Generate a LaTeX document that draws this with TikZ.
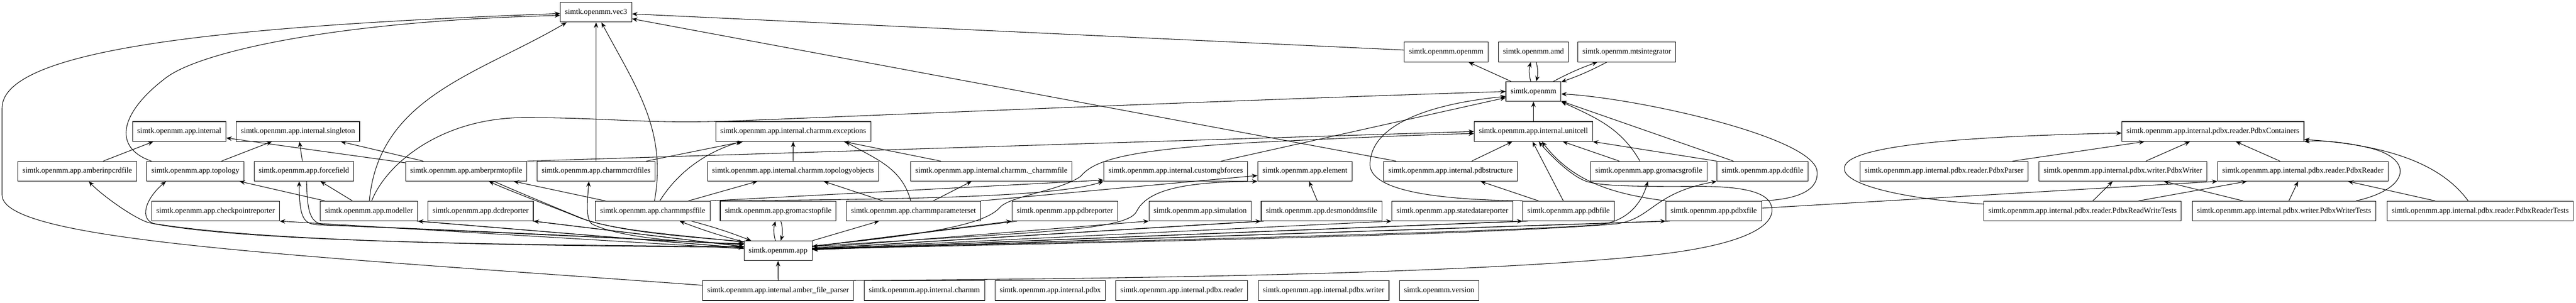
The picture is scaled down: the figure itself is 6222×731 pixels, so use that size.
\documentclass[tikz,border=0pt]{standalone}
\usepackage{fontspec}
\setmainfont{Liberation Serif}
\usetikzlibrary{arrows.meta}

\begin{document}
\begin{tikzpicture}[x=0.7565pt, y=0.7565pt, dep/.style={-{Stealth[length=10pt, width=8pt, inset=3.5pt]}, line width=1pt}]
\tikzstyle{pkg}=[rectangle, draw, line width=1pt, inner xsep=8.5pt, inner ysep=0pt, minimum height=36pt, font=\fontsize{14pt}{17pt}\selectfont]
\tikzstyle{every node}=[pkg]
\useasboundingbox (0,0) rectangle (6222,731);
\node (vecthree) at (1439.7,701.4) {simtk.openmm.vec3};
\node (ommomm) at (3493.2,605.4) {simtk.openmm.openmm};
\node (amd) at (3703.9,605.4) {simtk.openmm.amd};
\node (mts) at (3929.3,605.4) {simtk.openmm.mtsintegrator};
\node (omm) at (3703.8,510) {simtk.openmm};
\node (intl) at (433,413.5) {simtk.openmm.app.internal};
\node (sing) at (719.6,413.5) {simtk.openmm.app.internal.singleton};
\node (exc) at (1915.9,413.5) {simtk.openmm.app.internal.charmm.exceptions};
\node (ucell) at (3703.8,413.5) {simtk.openmm.app.internal.unitcell};
\node (pcont) at (5345,413.5) {simtk.openmm.app.internal.pdbx.reader.PdbxContainers};
\node (inpcrd) at (186.5,317.5) {simtk.openmm.app.amberinpcrdfile};
\node (topo) at (471.8,317.5) {simtk.openmm.app.topology};
\node (ff) at (734,317.5) {simtk.openmm.app.forcefield};
\node (prmtop) at (1126.1,317.5) {simtk.openmm.app.amberprmtopfile};
\node (crd) at (1439.6,317.5) {simtk.openmm.app.charmmcrdfiles};
\node (tobj) at (1915.5,317.5) {simtk.openmm.app.internal.charmm.topologyobjects};
\node (chfile) at (2394.5,317.5) {simtk.openmm.app.internal.charmm.\_charmmfile};
\node (gb) at (2839.8,317.5) {simtk.openmm.app.internal.customgbforces};
\node (elem) at (3151.7,317.5) {simtk.openmm.app.element};
\node (pstruct) at (3503.6,317.5) {simtk.openmm.app.internal.pdbstructure};
\node (gro) at (3982.3,317.5) {simtk.openmm.app.gromacsgrofile};
\node (dcdf) at (4257.1,317.5) {simtk.openmm.app.dcdfile};
\node (pparser) at (4695.6,317.5) {simtk.openmm.app.internal.pdbx.reader.PdbxParser};
\node (pwriter) at (5127.5,317.5) {simtk.openmm.app.internal.pdbx.writer.PdbxWriter};
\node (preader) at (5562.3,317.5) {simtk.openmm.app.internal.pdbx.reader.PdbxReader};
\node (chk) at (520.7,221.5) {simtk.openmm.app.checkpointreporter};
\node (mod) at (891.3,221.5) {simtk.openmm.app.modeller};
\node (dcdr) at (1160.8,221.5) {simtk.openmm.app.dcdreporter};
\node (psf) at (1576.6,221.5) {simtk.openmm.app.charmmpsffile};
\node (gtop) at (1879.6,221.5) {simtk.openmm.app.gromacstopfile};
\node (cpar) at (2206.3,221.5) {simtk.openmm.app.charmmparameterset};
\node (pdbr) at (2571.9,221.5) {simtk.openmm.app.pdbreporter};
\node (sim) at (2898.7,221.5) {simtk.openmm.app.simulation};
\node (dms) at (3191.9,221.5) {simtk.openmm.app.desmonddmsfile};
\node (sdr) at (3508,221.5) {simtk.openmm.app.statedatareporter};
\node (pdbf) at (3788.6,221.5) {simtk.openmm.app.pdbfile};
\node (pdbx) at (4139.3,221.5) {simtk.openmm.app.pdbxfile};
\node (prwt) at (5030.1,221.5) {simtk.openmm.app.internal.pdbx.reader.PdbxReadWriteTests};
\node (pwt) at (5516.8,221.5) {simtk.openmm.app.internal.pdbx.writer.PdbxWriterTests};
\node (prt) at (5990.6,221.5) {simtk.openmm.app.internal.pdbx.reader.PdbxReaderTests};
\node (app) at (1879.3,125.4) {simtk.openmm.app};
\node (afp) at (1879.4,29.3) {simtk.openmm.app.internal.amber\_file\_parser};
\node (ich) at (2232.7,29.3) {simtk.openmm.app.internal.charmm};
\node (ipdbx) at (2536.8,29.3) {simtk.openmm.app.internal.pdbx};
\node (iprd) at (2854.1,29.3) {simtk.openmm.app.internal.pdbx.reader};
\node (ipwr) at (3196.9,29.3) {simtk.openmm.app.internal.pdbx.writer};
\node (ver) at (3476.2,29.3) {simtk.openmm.version};
\foreach \i/\j in {inpcrd/intl, topo/sing, ff/sing, prmtop/intl, prmtop/sing, mod/topo, mod/ff, crd/vecthree, crd/exc, psf/tobj, psf/prmtop, cpar/tobj, cpar/chfile, chfile/exc, tobj/exc, gb/omm, dms/elem, pdbf/pstruct, pstruct/ucell, pstruct/vecthree, ucell/omm, gro/ucell, dcdf/omm, omm/ommomm, ommomm/vecthree, afp/app, app/cpar, pparser/pcont, pwriter/pcont, preader/pcont, prwt/pwriter, prwt/preader, pwt/pwriter, pwt/preader, prt/preader}{\draw[dep] (\i) -- (\j);}
\foreach \j/\b in {amd/15, mts/4}{\draw[dep] (omm) to[bend left=\b] (\j); \draw[dep] (\j) to[bend left=\b] (omm);}
\foreach \j/\b in {psf/3, gtop/15}{\draw[dep] (app) to[bend left=\b] (\j); \draw[dep] (\j) to[bend left=\b] (app);}
\draw[dep] (app) -- (mod.south east);
\draw[dep] (mod.-12.3) -- (app);
\draw[dep] (app) -- (dcdr.south east);
\draw[dep] (dcdr.-11.3) -- (app);
\draw[dep] (app) -- (chk.south east);
\draw[dep] (app) -- (pdbr.south west);
\draw[dep] (pdbr.-168.8) -- (app);
\draw[dep] (app) -- (sim.south west);
\draw[dep] (app) -- (dms.south west);
\draw[dep] (dms.-170.1) -- (app);
\draw[dep] (app) -- (sdr.south west);
\draw[dep] (app) -- (pdbf.south west);
\draw[dep] (pdbf.-166.9) -- (app);
\draw[dep] (app) -- (pdbx.south west);
\draw[dep] (pdbx.-167.4) -- (app);
\draw[dep] (cpar.north east) -- (elem);
\draw[dep] (psf.north east) -- (gb.187);
\draw[dep] (gtop.north west) .. controls (2200,250) and (2550,255) .. (gb.south west);
\draw[dep] (pdbf) -- (ucell.-95);
\draw[dep] (dcdf.north west) -- (ucell.south east);
\draw[dep] (prmtop.north east) -- (ucell.west);
\draw[dep] (pdbx) -- (preader.south west);
\draw[dep] (pdbx.north west) .. controls (3900,262) and (3800,290) .. (ucell.-50);
% left side
\draw[dep] (app.174) .. controls (1100,138) and (600,152) .. (360,193) .. controls (320,205) and (240,265) .. (inpcrd.-41);
\draw[dep] (app.173) .. controls (1100,140) and (600,150) .. (375,190) .. controls (335,200) and (350,250) .. (topo.-161);
\draw[dep] (app.169) .. controls (1300,165) and (900,183) .. (770,188) .. controls (735,190) and (723,200) .. (ff.-115);
\draw[dep] (ff.-75) .. controls (742,215) and (750,192) .. (785,188) .. controls (900,183) and (1300,168) .. (app.170);
\draw[dep] (app.165) .. controls (1650,160) and (1500,170) .. (1400,205) .. controls (1360,222) and (1230,270) .. (prmtop.-24);
\draw[dep] (prmtop.-20) .. controls (1240,272) and (1370,218) .. (1415,200) .. controls (1500,172) and (1660,162) .. (app.166);
\draw[dep] (app.168) .. controls (1600,145) and (1480,165) .. (1430,190) .. controls (1415,200) and (1418,240) .. (crd.-125);
\draw[dep] (afp.176) .. controls (700,115) and (5,150) .. (5,260) -- (5,470) .. controls (5,620) and (600,670) .. (vecthree.182);
\draw[dep] (topo.167) .. controls (270,375) and (290,460) .. (402,544) .. controls (482,604) and (800,680) .. (vecthree.185);
\draw[dep] (mod.88) .. controls (915,497) and (1154,551) .. (vecthree.199);
\draw[dep] (mod.75) .. controls (930,330) and (1060,447) .. (1268,447) .. controls (1480,447) and (1560,430) .. (1800,440) .. controls (2200,456) and (3000,490) .. (omm.west);
\draw[dep] (psf) to[out=80,in=298] (vecthree);
\draw[dep] (psf.55) .. controls (1640,320) and (1710,365) .. (exc.191.3);
\draw[dep] (cpar) to[out=105,in=-30] (exc.-11);
% right side
\draw[dep] (app.8) .. controls (2250,165) and (2380,190) .. (2415,230) .. controls (2440,258) and (2560,270) .. (2610,305) .. controls (2640,340) and (2700,370) .. (3050,388) .. controls (3300,400) and (3450,406) .. (ucell.182);
\draw[dep] (app.7) .. controls (2450,170) and (2720,170) .. (2745,220) .. controls (2770,270) and (2850,292) .. (elem.south west);
\draw[dep] (app.4) .. controls (2800,150) and (3600,170) .. (3860,188) .. controls (3930,195) and (3965,240) .. (gro.-95);
\draw[dep] (app.3) .. controls (2800,148) and (3600,165) .. (3900,190) .. controls (3990,200) and (3990,265) .. (dcdf.south west);
\draw[dep] (gro.131) to[out=120,in=-25] (omm.south east);
\draw[dep] (pdbf.north west) .. controls (3350,250) and (3300,300) .. (3310,345) .. controls (3320,430) and (3450,480) .. (omm.190);
\draw[dep] (pdbx.north east) .. controls (4360,250) and (4392,280) .. (4389,316) .. controls (4385,400) and (3950,495) .. (omm.-5);
\draw[dep] (afp.north east) .. controls (2800,58) and (3600,72) .. (4000,116) .. controls (4180,136) and (4282,175) .. (4280,225) .. controls (4278,265) and (4220,281) .. (4100,281) .. controls (3950,280) and (3870,282) .. (3835,292) .. controls (3800,302) and (3750,350) .. (ucell.-63);
\draw[dep] (prwt.176) .. controls (4600,250) and (4450,285) .. (4455,325) .. controls (4455,370) and (4650,400) .. (pcont.181);
\draw[dep] (pwt.8) .. controls (5820,275) and (5830,345) .. (5730,372) .. controls (5660,390) and (5600,392) .. (pcont.south east);
\draw[dep] (prt.140) .. controls (5900,330) and (5780,380) .. (pcont.-5);
\end{tikzpicture}
\end{document}
